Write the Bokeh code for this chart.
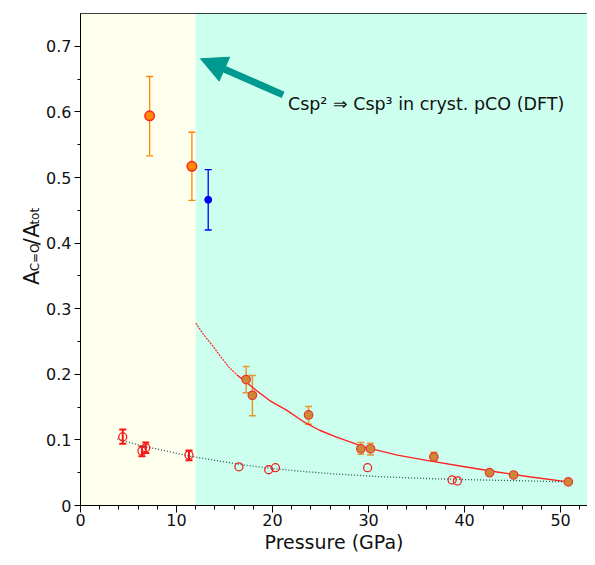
import math
from bokeh.plotting import figure
from bokeh.layouts import row
from bokeh.models import (ColumnDataSource, Whisker, TeeHead, BoxAnnotation, Arrow,
                          NormalHead, Label, FixedTicker, Range1d)
from bokeh.embed import file_html
from bokeh.resources import INLINE

# ---------------- data ----------------
# low-pressure points (orange, red outline)
lp_x = [7.2, 11.6]
lp_y = [0.594, 0.517]
lp_lo = [0.533, 0.465]
lp_hi = [0.654, 0.569]

# blue point
bl_x = [13.3]
bl_y = [0.466]
bl_lo = [0.420]
bl_hi = [0.512]

# high-pressure filled points (brown, red outline)
hp_x = [17.25, 17.9, 23.75, 29.2, 30.2, 36.8, 42.6, 45.1, 50.8]
hp_y = [0.192, 0.168, 0.138, 0.0865, 0.0865, 0.074, 0.050, 0.0465, 0.036]
hp_err_x = [17.25, 17.9, 23.75, 29.2, 30.2, 36.8]
hp_err_lo = [0.172, 0.137, 0.124, 0.078, 0.077, 0.068]
hp_err_hi = [0.212, 0.198, 0.151, 0.096, 0.095, 0.081]

# open red circles
oc_x = [4.4, 6.4, 6.8, 11.3, 16.5, 19.6, 20.3, 29.9, 38.7, 39.25]
oc_y = [0.1045, 0.083, 0.088, 0.077, 0.059, 0.0545, 0.0576, 0.0576, 0.039, 0.0375]
oc_err_x = [4.4, 6.4, 6.8, 11.3]
oc_err_lo = [0.094, 0.075, 0.080, 0.069]
oc_err_hi = [0.116, 0.090, 0.096, 0.084]

# fit curve through high-pressure points
fit_dash_x = [12.0, 12.8, 13.7, 14.55, 15.4, 16.3]
fit_dash_y = [0.278, 0.261, 0.2445, 0.228, 0.2117, 0.199]
fit_x = [16.3, 17.1, 18.0, 19.7, 21.5, 23.2, 24.9, 26.6, 29.6, 33.0, 36.5, 40.0,
         43.4, 46.9, 50.8]
fit_y = [0.199, 0.190, 0.179, 0.160, 0.145, 0.128, 0.1147, 0.1045, 0.0889, 0.0768,
         0.0677, 0.0591, 0.051, 0.0435, 0.036]

# dotted fit through open circles
dot_x = [3.85, 6.25, 8.7, 11.3, 13.9, 16.6, 20.1, 23.5, 26.6, 31.3, 36.5, 41.7, 46.9, 50.8]
dot_y = [0.1015, 0.0914, 0.0838, 0.0753, 0.0692, 0.0626, 0.056, 0.0515, 0.048, 0.0439,
         0.0409, 0.0389, 0.0374, 0.036]

boundary = 12.0
x_ticks = [0, 10, 20, 30, 40, 50]
x_minor = list(range(0, 54, 2))
y_ticks = [0, 0.1, 0.2, 0.3, 0.4, 0.5, 0.6, 0.7]
y_minor = [0.05 * i for i in range(0, 15)]

FONT = "DejaVu Sans"
TXT = "#111111"

# ---------------- main plot ----------------
p = figure(width=544, height=557, output_backend="svg", toolbar_location=None,
           x_range=Range1d(0, 52.8), y_range=Range1d(0, 0.75),
           min_border_left=35, min_border_right=0, min_border_top=13, min_border_bottom=52)
p.grid.visible = False
p.outline_line_color = "black"
p.outline_line_width = 1
p.background_fill_color = "white"
p.border_fill_color = "white"

p.add_layout(BoxAnnotation(right=boundary, fill_color="#FFFFEE", fill_alpha=1,
                           line_color=None, level="underlay"))
p.add_layout(BoxAnnotation(left=boundary, fill_color="#CCFFEE", fill_alpha=1,
                           line_color=None, level="underlay"))

p.xaxis.ticker = FixedTicker(ticks=x_ticks, minor_ticks=x_minor)
p.yaxis.ticker = FixedTicker(ticks=y_ticks, minor_ticks=y_minor)
p.yaxis.major_label_overrides = {0: "0"}
for ax in (p.xaxis, p.yaxis):
    ax.axis_line_color = "black"
    ax.major_tick_line_color = "black"
    ax.minor_tick_line_color = "black"
    ax.major_tick_in = 0
    ax.minor_tick_in = 0
    ax.major_label_text_font = FONT
    ax.major_label_text_font_size = "16px"
    ax.major_label_text_color = TXT
p.xaxis.major_tick_out = 7
p.xaxis.minor_tick_out = 4
p.yaxis.major_tick_out = 6
p.yaxis.minor_tick_out = 3
p.xaxis.major_label_standoff = 1
p.yaxis.major_label_standoff = 3
p.xaxis.axis_label = "Pressure (GPa)"
p.xaxis.axis_label_text_font = FONT
p.xaxis.axis_label_text_font_size = "19px"
p.xaxis.axis_label_text_font_style = "normal"
p.xaxis.axis_label_standoff = 2
p.xaxis.axis_label_text_color = TXT

# curves
p.line(fit_dash_x, fit_dash_y, line_color="#FF2222", line_width=1.2, line_dash="2 1")
p.line(fit_x, fit_y, line_color="#FF2222", line_width=1.4)
p.line(dot_x, dot_y, line_color="#2F4F4F", line_width=1.3, line_dash="1 2")

# error bars
def whisker(xs, lo, hi, color, width, cap):
    src = ColumnDataSource(dict(x=xs, lo=lo, hi=hi))
    w = Whisker(source=src, base="x", lower="lo", upper="hi", dimension="height",
                line_color=color, line_width=width,
                upper_head=TeeHead(size=cap, line_color=color, line_width=width),
                lower_head=TeeHead(size=cap, line_color=color, line_width=width))
    p.add_layout(w)

whisker(lp_x, lp_lo, lp_hi, "#FF8800", 1.3, 7)
whisker(bl_x, bl_lo, bl_hi, "#0000FF", 1.3, 7)
whisker(hp_err_x, hp_err_lo, hp_err_hi, "#E09A30", 1.5, 7)
whisker(oc_err_x, oc_err_lo, oc_err_hi, "#FF1111", 2, 7)

# points
p.scatter(oc_x, oc_y, size=8, fill_color=None, line_color="#EE2222", line_width=1.3)
p.scatter(hp_x, hp_y, size=8.5, fill_color="#CC8833", line_color="#EE3333", line_width=1.2)
p.scatter(lp_x, lp_y, size=9.5, fill_color="#FF8C00", line_color="#FF2222", line_width=1.5)
p.scatter(bl_x, bl_y, size=7, fill_color="#0000FF", line_color="#0000FF")

# arrow + annotation
p.add_layout(Arrow(end=NormalHead(size=26, fill_color="#009990", line_color="#009990"),
                   x_start=21.1, y_start=0.626, x_end=12.5, y_end=0.681,
                   line_color="#009990", line_width=7))
p.add_layout(Label(x=21.6, y=0.612, text="Csp² ⇒ Csp³ in cryst. pCO (DFT)",
                   text_font=FONT, text_font_size="17.5px", text_baseline="middle",
                   text_color=TXT))

# ---------------- y-axis title panel: A_{C=O}/A_{tot} ----------------
lab = figure(width=43, height=557, output_backend="svg", toolbar_location=None,
             x_range=Range1d(0, 43), y_range=Range1d(0, 557),
             x_axis_type=None, y_axis_type=None,
             min_border_left=0, min_border_right=0, min_border_top=0, min_border_bottom=0)
lab.grid.visible = False
lab.outline_line_color = None
lab.background_fill_color = "white"
lab.border_fill_color = "white"

for txt, yy, size, xx in [("A", 249.7, "21px", 31.0), ("C=O", 265.1, "12px", 34.5),
                          ("/", 294.5, "21px", 31.0), ("A", 303.1, "21px", 31.0),
                          ("tot", 318.0, "12px", 34.5)]:
    lab.add_layout(Label(x=xx, y=yy, text=txt, angle=math.pi / 2,
                         text_font=FONT, text_font_size=size,
                         text_baseline="alphabetic", text_align="left",
                         text_color=TXT))

layout = row(lab, p)
open("out.html", "w").write(file_html(layout, INLINE))
